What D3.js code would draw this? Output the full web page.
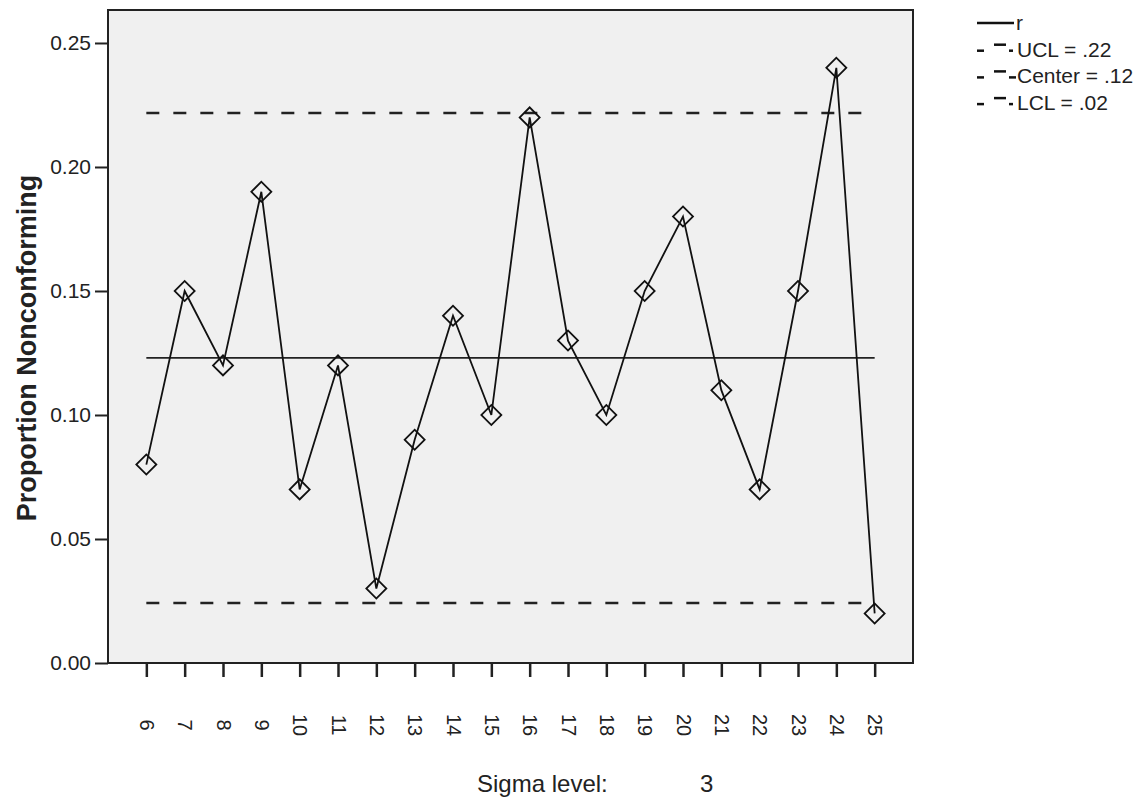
<!DOCTYPE html>
<html>
<head>
<meta charset="utf-8">
<script src="https://cdn.jsdelivr.net/npm/d3@7"></script>
<style>
  body { margin: 0; background: #fff; }
  text { font-family: "Liberation Sans", Arial, sans-serif; fill: #222; }
</style>
</head>
<body>
<div class="chart"></div>
<script>
//data
const levels = [6, 7, 8, 9, 10, 11, 12, 13, 14, 15, 16, 17, 18, 19, 20, 21, 22, 23, 24, 25];
const proportions = [0.08, 0.15, 0.12, 0.19, 0.07, 0.12, 0.03, 0.09, 0.14, 0.10, 0.22, 0.13, 0.10, 0.15, 0.18, 0.11, 0.07, 0.15, 0.24, 0.02];
const yTicks = [0.00, 0.05, 0.10, 0.15, 0.20, 0.25];
const limitNames = ['UCL', 'Center', 'LCL'];
const limitValues = [0.2218, 0.1230, 0.0242];
const legendLabels = ['r', 'UCL = .22', 'Center = .12', 'LCL = .02'];
const sigmaLevel = 3;

const data = levels.map((d, i) => ({level: d, p: proportions[i]}));

//plot box
const plot = {left: 108, top: 10, right: 913, bottom: 663};

const svg = d3.select('.chart').append('svg')
  .attr('width', 1148)
  .attr('height', 803);

//scales
const xScale = d3.scalePoint()
  .domain(levels)
  .range([plot.left, plot.right])
  .padding(1);

const yScale = d3.scaleLinear()
  .domain([0, 0.2633])
  .range([plot.bottom, plot.top]);

//background box
svg.append('rect')
  .attr('x', plot.left)
  .attr('y', plot.top)
  .attr('width', plot.right - plot.left)
  .attr('height', plot.bottom - plot.top)
  .attr('fill', '#f0f0f0')
  .attr('stroke', '#222')
  .attr('stroke-width', 2);

//axes
const yAxis = d3.axisLeft(yScale)
  .tickValues(yTicks)
  .tickFormat(d3.format('.2f'))
  .tickSize(13)
  .tickPadding(4);

const yG = svg.append('g')
  .attr('class', 'axis y-axis')
  .attr('transform', `translate(${plot.left},0)`)
  .call(yAxis);
yG.select('.domain').remove();
yG.selectAll('line').attr('stroke', '#222').attr('stroke-width', 2);
yG.selectAll('text').attr('font-size', 21).attr('fill', '#333').attr('font-family', '"Liberation Sans", Arial, sans-serif');

const xAxis = d3.axisBottom(xScale)
  .tickSize(14)
  .tickPadding(0);

const xG = svg.append('g')
  .attr('class', 'axis x-axis')
  .attr('transform', `translate(0,${plot.bottom})`)
  .call(xAxis);
xG.select('.domain').remove();
xG.selectAll('line').attr('stroke', '#222').attr('stroke-width', 2.5);
xG.selectAll('text')
  .attr('font-size', 20)
  .attr('fill', '#333')
  .attr('font-family', '"Liberation Sans", Arial, sans-serif')
  .attr('text-anchor', 'middle')
  .attr('dy', null)
  .attr('y', 0)
  .attr('transform', 'translate(0,62) rotate(90)')
  .attr('dominant-baseline', 'central');

//control limit lines
svg.selectAll('.limit')
  .data(limitNames)
  .enter()
  .append('line')
  .attr('class', 'limit')
  .attr('x1', xScale(levels[0]))
  .attr('x2', xScale(levels[levels.length - 1]))
  .attr('y1', (d, i) => yScale(limitValues[i]))
  .attr('y2', (d, i) => yScale(limitValues[i]))
  .attr('stroke', '#222')
  .attr('stroke-width', d => d === 'Center' ? 1.8 : 2.5)
  .attr('stroke-dasharray', d => d === 'Center' ? null : '13,14');

//series line
const line = d3.line()
  .x(d => xScale(d.level))
  .y(d => yScale(d.p));

svg.append('path')
  .datum(data)
  .attr('d', line)
  .attr('fill', 'none')
  .attr('stroke', '#111')
  .attr('stroke-width', 1.8);

//diamond markers
const diamond = d3.symbol().type(d3.symbolSquare).size(200);
svg.selectAll('.marker')
  .data(data)
  .enter()
  .append('path')
  .attr('class', 'marker')
  .attr('d', diamond)
  .attr('transform', d => `translate(${xScale(d.level)},${yScale(d.p)}) rotate(45)`)
  .attr('fill', 'none')
  .attr('stroke', '#111')
  .attr('stroke-width', 1.8);

//axis titles
svg.append('text')
  .attr('transform', 'translate(36,348) rotate(-90)')
  .attr('text-anchor', 'middle')
  .attr('font-size', 27)
  .attr('font-weight', 'bold')
  .text('Proportion Nonconforming');

svg.append('text')
  .attr('x', 477)
  .attr('y', 792)
  .attr('font-size', 24)
  .attr('fill', '#333')
  .text('Sigma level:');

svg.append('text')
  .attr('x', 700)
  .attr('y', 792)
  .attr('font-size', 24)
  .attr('fill', '#333')
  .text(sigmaLevel);

//legend
const legend = svg.append('g').attr('class', 'legend');
const rowY = (d, i) => 30 + i * 26.7;

legend.selectAll('.legendText')
  .data(legendLabels)
  .enter()
  .append('text')
  .attr('x', (d, i) => i === 0 ? 1016 : 1017)
  .attr('y', rowY)
  .attr('font-size', 21)
  .attr('fill', '#222')
  .text(d => d);

//solid sample for r
legend.append('line')
  .attr('x1', 977).attr('x2', 1014)
  .attr('y1', rowY(0, 0) - 7).attr('y2', rowY(0, 0) - 7)
  .attr('stroke', '#111').attr('stroke-width', 2.5);

//broken samples for the limits
const pieces = [[977, 984, 0], [994, 1006, -6], [1009, 1013, 0]];
limitNames.forEach((name, k) => {
  const y0 = rowY(null, k + 1) - 6;
  legend.selectAll('.piece' + k)
    .data(pieces)
    .enter()
    .append('line')
    .attr('x1', d => d[0])
    .attr('x2', d => name === 'Center' && d[0] === 1009 ? 1016 : d[1])
    .attr('y1', d => y0 + d[2])
    .attr('y2', d => y0 + d[2])
    .attr('stroke', '#111')
    .attr('stroke-width', 2.5);
});
</script>
</body>
</html>
